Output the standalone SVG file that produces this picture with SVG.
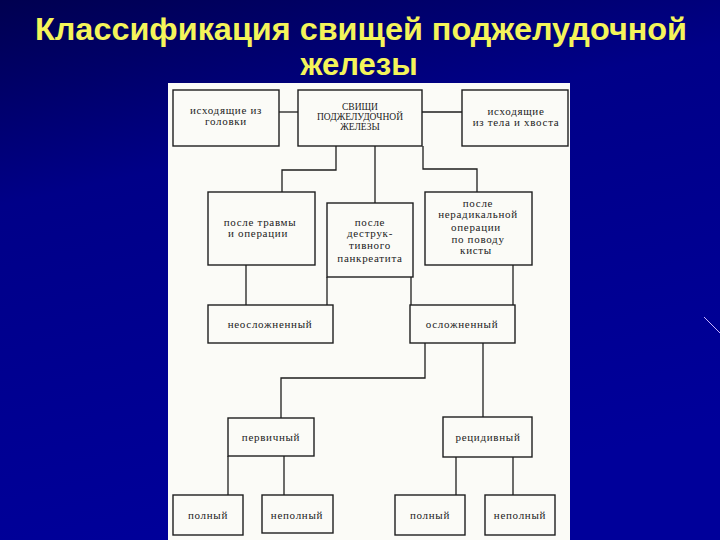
<svg xmlns="http://www.w3.org/2000/svg" width="720" height="540" viewBox="0 0 720 540">
<defs>
<linearGradient id="bg" x1="0" y1="0" x2="0.3" y2="1">
<stop offset="0" stop-color="#000050"/>
<stop offset="0.35" stop-color="#000088"/>
<stop offset="1" stop-color="#00009a"/>
</linearGradient>
<style>
.title{font-family:"Liberation Sans",Arial,sans-serif;font-weight:bold;font-size:31px;fill:#f4f45a;text-anchor:middle}
.box{fill:none;stroke:#1e1e1e;stroke-width:1.4}
.t{font-family:"Liberation Serif","Times New Roman",serif;font-size:11px;letter-spacing:0.7px;fill:#222;text-anchor:middle}
.u{font-family:"Liberation Serif","Times New Roman",serif;font-size:9.5px;fill:#222;text-anchor:middle}
.c{fill:none;stroke:#1e1e1e;stroke-width:1.3}
</style>
</defs>
<rect x="0" y="0" width="720" height="540" fill="url(#bg)"/>
<line x1="704" y1="317" x2="720" y2="333" stroke="#c8b4ff" stroke-width="1"/>
<text class="title" x="361" y="40" textLength="652" lengthAdjust="spacingAndGlyphs">Классификация свищей поджелудочной</text>
<text class="title" x="359" y="75">железы</text>
<rect x="168" y="83" width="402" height="457" fill="#fbfbf7"/>

<g id="connectors">
<path class="c" d="M279 112H298"/>
<path class="c" d="M422 112H462"/>
<path class="c" d="M336 146V170H282V192"/>
<path class="c" d="M375 146V203"/>
<path class="c" d="M423 146V169H477V192"/>
<path class="c" d="M246 265V305"/>
<path class="c" d="M327 277V305"/>
<path class="c" d="M411 277V305"/>
<path class="c" d="M513 265V305"/>
<path class="c" d="M425 343V378H281V418"/>
<path class="c" d="M483 343V417"/>
<path class="c" d="M228 456V495"/>
<path class="c" d="M284 456V495"/>
<path class="c" d="M456 457V495"/>
<path class="c" d="M513 457V495"/>
</g>

<g id="head"><rect class="box" x="173" y="90" width="106" height="56"/>
<text class="t" x="226" y="114">исходящие из</text><text class="t" x="226" y="125">головки</text></g>
<g id="root"><rect class="box" x="298" y="90" width="124" height="56"/>
<text class="u" x="360" y="110">СВИЩИ</text><text class="u" x="360" y="120">ПОДЖЕЛУДОЧНОЙ</text><text class="u" x="360" y="130">ЖЕЛЕЗЫ</text></g>
<g id="tail"><rect class="box" x="462" y="90" width="106" height="56"/>
<text class="t" x="516" y="115">исходящие</text><text class="t" x="516" y="126">из тела и хвоста</text></g>

<g id="trauma"><rect class="box" x="208" y="192" width="107" height="73"/>
<text class="t" x="260" y="226">после травмы</text><text class="t" x="258" y="237">и операции</text></g>
<g id="destr"><rect class="box" x="327" y="203" width="86" height="74"/>
<text class="t" x="370" y="226">после</text><text class="t" x="370" y="237">деструк-</text><text class="t" x="370" y="249">тивного</text><text class="t" x="370" y="262">панкреатита</text></g>
<g id="nonrad"><rect class="box" x="425" y="192" width="107" height="73"/>
<text class="t" x="478" y="207">после</text><text class="t" x="478" y="218">нерадикальной</text><text class="t" x="476" y="231">операции</text><text class="t" x="478" y="243">по поводу</text><text class="t" x="476" y="254">кисты</text></g>

<g id="uncompl"><rect class="box" x="208" y="305" width="125" height="38"/>
<text class="t" x="270" y="328">неосложненный</text></g>
<g id="compl"><rect class="box" x="410" y="305" width="105" height="38"/>
<text class="t" x="462" y="328">осложненный</text></g>

<g id="primary"><rect class="box" x="228" y="418" width="86" height="38"/>
<text class="t" x="271" y="441">первичный</text></g>
<g id="recid"><rect class="box" x="443" y="417" width="89" height="40"/>
<text class="t" x="488" y="441">рецидивный</text></g>

<g id="full1"><rect class="box" x="173" y="495" width="70" height="40"/>
<text class="t" x="208" y="519">полный</text></g>
<g id="incompl1"><rect class="box" x="262" y="495" width="71" height="38"/>
<text class="t" x="297" y="519">неполный</text></g>
<g id="full2"><rect class="box" x="395" y="495" width="70" height="40"/>
<text class="t" x="430" y="519">полный</text></g>
<g id="incompl2"><rect class="box" x="485" y="495" width="70" height="40"/>
<text class="t" x="520" y="519">неполный</text></g>
</svg>
